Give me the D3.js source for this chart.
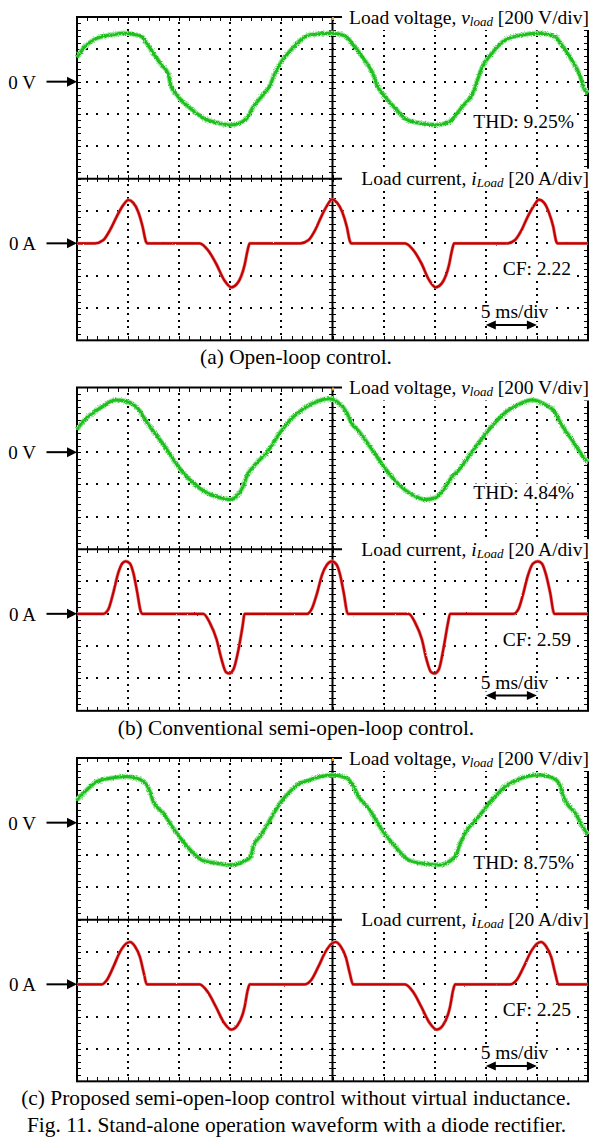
<!DOCTYPE html>
<html><head><meta charset="utf-8">
<script src="https://cdn.jsdelivr.net/npm/d3@7"></script>
<style>
html,body{margin:0;padding:0;background:#fff;}
svg{display:block;}
text{font-family:"Liberation Serif","Times New Roman",Times,serif;fill:#000;}
</style></head><body>
<svg id="chart" width="592" height="1137">
  <defs>
    <filter id="fuzzV" x="-5%" y="-20%" width="110%" height="140%">
      <feTurbulence type="fractalNoise" baseFrequency="0.9" numOctaves="2" seed="3" result="n"/>
      <feDisplacementMap in="SourceGraphic" in2="n" scale="3.2" xChannelSelector="R" yChannelSelector="G"/>
    </filter>
    <filter id="fuzzI" x="-5%" y="-20%" width="110%" height="140%">
      <feTurbulence type="fractalNoise" baseFrequency="0.9" numOctaves="2" seed="7" result="n"/>
      <feDisplacementMap in="SourceGraphic" in2="n" scale="1.6" xChannelSelector="R" yChannelSelector="G"/>
    </filter>
  </defs>
</svg>
<script>
// ---------------- data (time in ms, voltage in V, current in A) ----------------
const voltageA = [[0,150],[0.78,217],[1.6,258],[2.25,275],[3.55,291],[4.53,300],[5.51,293],[6.33,279],[6.82,238],[7.47,176],[8.28,103],[8.93,48],[9.16,-20],[9.75,-82],[10.7,-144],[11.7,-196],[12.4,-227],[13.7,-254],[15.0,-268],[15.9,-256],[16.6,-228],[17.2,-160],[18.2,-82],[18.9,-21],[19.3,41],[19.7,93],[20.5,165],[21.0,200],[21.7,248],[22.7,289],[24.95,300],[26.25,283],[26.9,238],[27.9,155],[29.0,41],[29.35,-21],[30.0,-82],[31.15,-165],[32.3,-237],[34.1,-262],[35.05,-268],[36.4,-250],[37.0,-210],[37.7,-155],[38.8,-62],[39.3,31],[39.6,83],[40.6,176],[41.9,258],[43.5,289],[45.2,300],[46.8,279],[47.3,238],[48.3,145],[49.25,31],[49.6,-41],[50,-72]];
const currentA = [[0,0],[1.76,0],[2.57,2],[3.23,8.2],[3.88,16.5],[4.53,23.7],[5.02,26.8],[5.5,25.1],[5.99,19.5],[6.42,10.3],[6.75,1],[6.88,0],[12.0,0],[12.8,-4.1],[13.6,-12.4],[14.4,-22.7],[15.1,-27.2],[15.7,-24.7],[16.4,-13.4],[16.7,-4.1],[16.9,0],[21.85,0],[22.65,2],[23.3,8.2],[23.9,16.5],[24.5,23.7],[24.95,27.2],[25.45,25.1],[25.95,19.5],[26.4,10.3],[26.72,1],[26.84,0],[32.1,0],[32.9,-4.1],[33.7,-12.4],[34.45,-22.7],[35.1,-27.2],[35.7,-24.7],[36.4,-13.4],[36.7,-4.1],[36.9,0],[42.1,0],[42.85,2],[43.5,8.2],[44.1,16.5],[44.75,23.7],[45.2,27],[45.7,25.1],[46.15,19.5],[46.6,10.3],[46.9,1],[47.0,0],[50,0]];

const voltageB = [[0,140],[0.78,202],[1.6,244],[2.58,285],[3.72,322],[4.7,316],[5.51,295],[6.16,254],[6.65,202],[6.98,171],[7.47,130],[8.45,48],[9.43,-45],[10.4,-128],[11.55,-200],[12.7,-251],[14.0,-282],[14.97,-293],[15.78,-262],[16.3,-205],[16.6,-150],[17.25,-90],[18.55,-4],[19.86,120],[20.9,202],[22.3,275],[23.6,316],[24.6,330],[25.6,305],[26.4,244],[26.84,182],[27.56,130],[28.86,17],[30.0,-87],[31.47,-200],[32.77,-262],[34.07,-293],[35.05,-282],[36.0,-220],[36.8,-145],[37.2,-122],[38.0,-56],[39.3,58],[40.6,161],[41.9,244],[43.2,295],[44.5,322],[45.8,295],[46.8,244],[47.3,182],[48.4,79],[49.9,-56],[50,-62]];
const currentB = [[0,0],[2.57,0],[3.06,2.7],[3.55,13],[4.04,25.4],[4.47,31.5],[4.79,32.5],[5.18,31.1],[5.51,25.4],[5.9,13],[6.23,1.6],[6.39,0],[12.36,0],[13.0,-5.6],[13.66,-15.9],[14.15,-28.3],[14.58,-36.1],[14.9,-36.9],[15.3,-34.5],[15.8,-22.1],[16.2,-7.7],[16.4,0],[22.5,0],[23.0,3.5],[23.5,13],[23.97,24],[24.46,30.4],[24.95,32.5],[25.4,30.4],[25.75,24],[26.1,13],[26.5,0],[32.45,0],[33.1,-5.6],[33.75,-15.9],[34.2,-28.3],[34.65,-36.1],[35.0,-36.9],[35.4,-34.5],[35.9,-20],[36.3,-5.6],[36.5,0],[42.7,0],[43.2,3],[43.6,11],[44.1,23.3],[44.6,31],[45.1,32.5],[45.5,31],[45.9,24],[46.3,13],[46.7,0],[50,0]];

const voltageC = [[0,140],[0.95,202],[1.93,254],[3.23,275],[4.86,285],[6.16,268],[6.82,233],[7.14,192],[7.47,130],[8.45,58],[9.43,-35],[10.4,-118],[11.4,-190],[12.2,-231],[13.7,-251],[15.0,-262],[16.3,-241],[17.0,-210],[17.3,-138],[17.9,-87],[18.88,17],[19.86,120],[20.84,192],[21.8,244],[22.3,254],[23.6,281],[24.95,295],[26.4,275],[27.07,223],[27.56,161],[28.54,89],[29.84,-45],[31.15,-148],[32.45,-231],[34.07,-255],[35.4,-262],[37.0,-210],[37.5,-128],[37.97,-66],[39.3,37],[40.6,140],[41.9,223],[43.2,268],[45.17,295],[46.8,268],[47.3,223],[47.6,161],[48.76,58],[49.9,-66],[50,-72]];
const currentC = [[0,0],[2.42,0],[2.9,2.5],[3.55,10.7],[4.2,20],[4.79,25.1],[5.18,26.2],[5.67,23.5],[6.16,16.9],[6.55,6.6],[6.82,0],[12.0,0],[12.8,-4.8],[13.6,-14],[14.4,-23.9],[15.1,-28],[15.7,-25.4],[16.4,-14],[16.7,-3.7],[16.9,0],[22.3,0],[22.9,2.5],[23.6,10.7],[24.3,20],[24.9,25.1],[25.3,26.2],[25.8,23.5],[26.3,16.9],[26.7,6.6],[27.0,0],[32.1,0],[32.9,-4.8],[33.7,-14],[34.5,-23.9],[35.2,-28],[35.8,-25.4],[36.5,-14],[36.8,-3.7],[37.0,0],[42.4,0],[43.0,2.5],[43.7,10.7],[44.4,20],[45.0,25.1],[45.4,26.2],[45.9,23.5],[46.4,16.9],[46.8,6.6],[47.1,0],[50,0]];

const captions = ["(a) Open-loop control.", "(b) Conventional semi-open-loop control.", "(c) Proposed semi-open-loop control without virtual inductance."];
const figTitle = "Fig. 11. Stand-alone operation waveform with a diode rectifier.";
const thdLabels = ["THD: 9.25%", "THD: 4.84%", "THD: 8.75%"];
const cfLabels = ["CF: 2.22", "CF: 2.59", "CF: 2.25"];
const zeroLabels = ["0 V", "0 A"];
const timeDivLabel = "5 ms/div";

// ---------------- layout ----------------
const svg = d3.select("#chart");
const plotLeft = 77, plotRight = 588, divH = 32.333;
const panelTops = [17, 387.5, 758];
const x = d3.scaleLinear().domain([0, 50]).range([plotLeft, plotRight]);
const minorX = d3.range(1, 50);                       // every 1 ms (0.2 div)
const minorYDiv = d3.range(1, 50).map(k => k / 5);    // every 0.2 div
const dotXMajor = [5, 10, 15, 20, 30, 35, 40, 45];
const dotYMajor = [1, 2, 3, 4, 6, 7, 8, 9];
const volts = [voltageA, voltageB, voltageC];
const amps = [currentA, currentB, currentC];

function textWithBg(g, xPos, yPos, anchor, size, str) {
  const t = g.append("text").attr("x", xPos).attr("y", yPos)
    .attr("text-anchor", anchor).attr("font-size", size).text(str);
  const b = t.node().getBBox();
  g.insert("rect", () => t.node())
    .attr("x", b.x - 2).attr("y", b.y + 2).attr("width", b.width + 4).attr("height", b.height - 3)
    .attr("fill", "#fff");
  return t;
}

function channelLabel(g, yBase, main, sym, sub, scale) {
  const t = g.append("text").attr("x", 589).attr("y", yBase).attr("text-anchor", "end").attr("font-size", 19.5);
  t.append("tspan").text(main);
  t.append("tspan").attr("font-style", "italic").text(sym);
  t.append("tspan").attr("font-style", "italic").attr("font-size", 13).attr("dy", 2).text(sub);
  t.append("tspan").attr("dy", -2).text(" " + scale);
}

panelTops.forEach((top, idx) => {
  const bottom = top + 10 * divH;
  const mid = top + 5 * divH;
  const yDiv = d3.scaleLinear().domain([0, 10]).range([top, bottom]);
  const yV = d3.scaleLinear().domain([-600, 400]).range([mid, top]);
  const yI = d3.scaleLinear().domain([-60, 40]).range([bottom, mid]);
  const g = svg.append("g");

  // dotted grid
  const dots = g.append("g").attr("fill", "#000").attr("shape-rendering", "crispEdges");
  dots.selectAll("rect.h").data(d3.cross(dotYMajor, minorX)).join("rect").attr("class", "h")
    .attr("x", d => Math.round(x(d[1]) - 1)).attr("y", d => Math.round(yDiv(d[0]) - 1)).attr("width", 2).attr("height", 2);
  dots.selectAll("rect.v").data(d3.cross(dotXMajor, minorYDiv)).join("rect").attr("class", "v")
    .attr("x", d => Math.round(x(d[0]) - 1)).attr("y", d => Math.round(yDiv(d[1]) - 1)).attr("width", 2).attr("height", 2);

  // ticks on border and center lines
  const tk = g.append("g").attr("stroke", "#000").attr("stroke-width", 1.5).attr("shape-rendering", "crispEdges");
  minorX.forEach(t => {
    const xx = Math.round(x(t)) + 0.5;
    tk.append("line").attr("x1", xx).attr("x2", xx).attr("y1", top).attr("y2", top + 4);
    tk.append("line").attr("x1", xx).attr("x2", xx).attr("y1", bottom - 4).attr("y2", bottom);
    tk.append("line").attr("x1", xx).attr("x2", xx).attr("y1", mid - 3.5).attr("y2", mid + 3.5);
  });
  minorYDiv.forEach(d => {
    const yy = Math.round(yDiv(d)) + 0.5;
    tk.append("line").attr("x1", plotLeft).attr("x2", plotLeft + 4).attr("y1", yy).attr("y2", yy);
    tk.append("line").attr("x1", plotRight - 4).attr("x2", plotRight).attr("y1", yy).attr("y2", yy);
    tk.append("line").attr("x1", x(25) - 3.5).attr("x2", x(25) + 3.5).attr("y1", yy).attr("y2", yy);
  });

  // frame and center axes
  g.append("rect").attr("x", plotLeft).attr("y", top).attr("width", plotRight - plotLeft).attr("height", bottom - top)
    .attr("fill", "none").attr("stroke", "#000").attr("stroke-width", 2);
  g.append("line").attr("x1", plotLeft).attr("x2", plotRight).attr("y1", mid).attr("y2", mid).attr("stroke", "#000").attr("stroke-width", 2);
  g.append("line").attr("x1", x(25)).attr("x2", x(25)).attr("y1", top).attr("y2", bottom).attr("stroke", "#000").attr("stroke-width", 2);

  // white areas behind the channel labels
  g.append("rect").attr("x", 342).attr("y", top - 14).attr("width", 252).attr("height", 27).attr("fill", "#fff");
  g.append("rect").attr("x", 342).attr("y", mid - 10).attr("width", 252).attr("height", 22).attr("fill", "#fff");
  g.append("rect").attr("x", x(25) - 0.5).attr("y", top).attr("width", 2).attr("height", 3).attr("fill", "#f0a030");

  // traces
  const vLine = d3.line().x(d => x(d[0])).y(d => yV(d[1])).curve(d3.curveMonotoneX);
  const iLine = d3.line().x(d => x(d[0])).y(d => yI(d[1])).curve(d3.curveMonotoneX);
  const gv = g.append("g").attr("filter", "url(#fuzzV)");
  gv.append("path").attr("d", vLine(volts[idx])).attr("fill", "none").attr("stroke", "#9ee69e").attr("stroke-width", 5.2).attr("stroke-linejoin", "round");
  gv.append("path").attr("d", vLine(volts[idx])).attr("fill", "none").attr("stroke", "#1fbf1f").attr("stroke-width", 3).attr("stroke-linejoin", "round");
  const gi = g.append("g").attr("filter", "url(#fuzzI)");
  gi.append("path").attr("d", iLine(amps[idx])).attr("fill", "none").attr("stroke", "#e48a8a").attr("stroke-width", 3.4).attr("stroke-linejoin", "round");
  gi.append("path").attr("d", iLine(amps[idx])).attr("fill", "none").attr("stroke", "#c40000").attr("stroke-width", 2.2).attr("stroke-linejoin", "round");

  // channel labels
  channelLabel(g, top + 6.5, "Load voltage, ", "v", "load", "[200 V/div]");
  channelLabel(g, mid + 6.5, "Load current, ", "i", "Load", "[20 A/div]");

  // zero markers
  [[yV(0), zeroLabels[0]], [yI(0), zeroLabels[1]]].forEach(([yy, lab]) => {
    g.append("text").attr("x", 36).attr("y", yy + 7).attr("text-anchor", "end").attr("font-size", 19).text(lab);
    g.append("line").attr("x1", 46.5).attr("x2", 69).attr("y1", yy).attr("y2", yy).attr("stroke", "#000").attr("stroke-width", 2);
    g.append("path").attr("d", `M${plotLeft},${yy}L${plotLeft - 10},${yy - 5}L${plotLeft - 10},${yy + 5}Z`).attr("fill", "#000");
  });

  // annotations
  textWithBg(g, 574, top + 111, "end", 19.5, thdLabels[idx]);
  textWithBg(g, 571, top + 258, "end", 19.5, cfLabels[idx]);
  textWithBg(g, 514.5, top + 301, "middle", 19.5, timeDivLabel);
  const ay = top + 308, ax1 = x(40), ax2 = x(45);
  g.append("rect").attr("x", ax1 + 2).attr("y", ay - 5).attr("width", ax2 - ax1 - 4).attr("height", 10).attr("fill", "#fff");
  g.append("line").attr("x1", ax1 + 6).attr("x2", ax2 - 6).attr("y1", ay).attr("y2", ay).attr("stroke", "#000").attr("stroke-width", 2);
  g.append("path").attr("d", `M${ax1},${ay}L${ax1 + 10},${ay - 4.5}L${ax1 + 10},${ay + 4.5}Z`).attr("fill", "#000");
  g.append("path").attr("d", `M${ax2},${ay}L${ax2 - 10},${ay - 4.5}L${ax2 - 10},${ay + 4.5}Z`).attr("fill", "#000");

  // caption
  svg.append("text").attr("x", 296).attr("y", bottom + 24).attr("text-anchor", "middle").attr("font-size", 21.4).text(captions[idx]);
});

svg.append("text").attr("x", 296.5).attr("y", 1132).attr("text-anchor", "middle").attr("font-size", 21.4).text(figTitle);
</script>
</body></html>
